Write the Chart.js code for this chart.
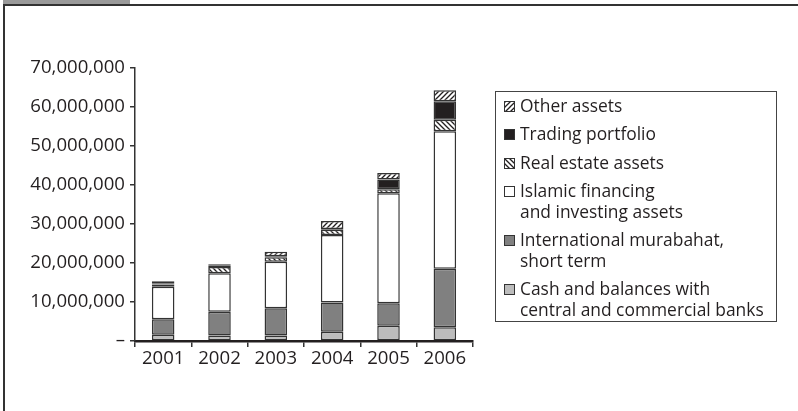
<!DOCTYPE html>
<html>
<head>
<meta charset="utf-8">
<script src="https://cdn.jsdelivr.net/npm/chart.js@4"></script>
<style>
  html, body { margin: 0; padding: 0; background: #fff; }
  #wrap { position: relative; width: 798px; height: 411px; overflow: hidden; font-family: "Open Sans", sans-serif; color: #231f20; }
  #tab { position: absolute; left: 3px; top: 0; width: 127px; height: 4px; background: #9a9a9a; }
  #topline { position: absolute; left: 3px; top: 4px; width: 795px; height: 2px; background: #333; }
  #leftline { position: absolute; left: 3px; top: 4px; width: 2px; height: 407px; background: #333; }
  #chartBox { position: absolute; left: 0; top: 0; width: 798px; height: 411px; }
  #legend { position: absolute; left: 495px; top: 91px; width: 282px; height: 231px; border: 1.5px solid #444; box-sizing: border-box; padding: 3px 0 0 8px; }
  .item { display: flex; align-items: flex-start; margin-bottom: 7.3px; font-size: 17.4px; line-height: 21px; }
  .sw { width: 9px; height: 9px; border: 1.2px solid #333; margin-top: 6px; margin-right: 5px; flex: none; background-size: 5px 5px; }
</style>
</head>
<body>
<div id="wrap">
  <div id="chartBox"><canvas id="chart" width="798" height="411"></canvas></div>
  <div id="tab"></div>
  <div id="topline"></div>
  <div id="leftline"></div>
  <div id="legend"></div>
</div>
<script>
// ---------- Data ----------
const years = ["2001", "2002", "2003", "2004", "2005", "2006"];
const cash = [1600000, 1400000, 1400000, 2400000, 3900000, 3500000];
const murabahat = [4000000, 6100000, 7000000, 7500000, 5800000, 15000000];
const islamic = [8300000, 9900000, 11900000, 17300000, 28200000, 35300000];
const realEstate = [600000, 1600000, 1200000, 1300000, 1000000, 2900000];
const trading = [300000, 300000, 200000, 200000, 2500000, 4800000];
const other = [500000, 400000, 1200000, 2100000, 1700000, 2800000];
const yTicks = [0, 10000000, 20000000, 30000000, 40000000, 50000000, 60000000, 70000000];

// ---------- Patterns ----------
function hatch(forward) {
  const c = document.createElement("canvas");
  c.width = 5; c.height = 5;
  const g = c.getContext("2d");
  g.fillStyle = "#fff"; g.fillRect(0, 0, 5, 5);
  g.strokeStyle = "#231f20"; g.lineWidth = 1.3;
  g.beginPath();
  if (forward) {
    g.moveTo(-1, 6); g.lineTo(6, -1);
    g.moveTo(-1, 1); g.lineTo(1, -1);
    g.moveTo(4, 6); g.lineTo(6, 4);
  } else {
    g.moveTo(-1, -1); g.lineTo(6, 6);
    g.moveTo(4, -1); g.lineTo(6, 1);
    g.moveTo(-1, 4); g.lineTo(1, 6);
  }
  g.stroke();
  return c;
}
const fwdCanvas = hatch(true), backCanvas = hatch(false);
const ctx = document.getElementById("chart").getContext("2d");
const fwdPat = ctx.createPattern(fwdCanvas, "repeat");
const backPat = ctx.createPattern(backCanvas, "repeat");

// bottom to top
const series = [
  { label: ["Cash and balances with", "central and commercial banks"], data: cash, bg: "#bcbcbc", css: "#bcbcbc" },
  { label: ["International murabahat,", "short term"], data: murabahat, bg: "#808080", css: "#808080" },
  { label: ["Islamic financing", "and investing assets"], data: islamic, bg: "#ffffff", css: "#ffffff" },
  { label: ["Real estate assets"], data: realEstate, bg: backPat, css: `url(${backCanvas.toDataURL()})` },
  { label: ["Trading portfolio"], data: trading, bg: "#231f20", css: "#231f20" },
  { label: ["Other assets"], data: other, bg: fwdPat, css: `url(${fwdCanvas.toDataURL()})` }
];

// ---------- Legend ----------
const legend = document.getElementById("legend");
series.slice().reverse().forEach((s) => {
  const it = document.createElement("div");
  it.className = "item";
  const sw = document.createElement("span");
  sw.className = "sw";
  if (s.css.startsWith("url")) sw.style.backgroundImage = s.css; else sw.style.background = s.css;
  const tx = document.createElement("span");
  tx.innerHTML = s.label.join("<br>");
  it.appendChild(sw); it.appendChild(tx);
  legend.appendChild(it);
});

// ---------- Chart ----------
const axisFont = { family: "'Open Sans', sans-serif", size: 18.6 };
new Chart(ctx, {
  type: "bar",
  data: {
    labels: years,
    datasets: series.map((s) => ({
      label: s.label.join(" "),
      data: s.data,
      backgroundColor: s.bg,
      borderColor: "#333",
      borderWidth: 1.5,
      borderSkipped: false,
      categoryPercentage: 1,
      barPercentage: 0.4
    }))
  },
  options: {
    responsive: false,
    animation: false,
    layout: { padding: { top: 68, right: 325, bottom: 40, left: 0 } },
    plugins: { legend: { display: false }, tooltip: { enabled: false } },
    scales: {
      x: {
        stacked: true,
        grid: { drawOnChartArea: false, drawTicks: true, tickLength: 6, color: "#333", lineWidth: 1.5 },
        border: { color: "#231f20", width: 2.5 },
        ticks: { color: "#231f20", font: axisFont, padding: 1 },
        afterFit: (s) => { s.height = 30; }
      },
      y: {
        stacked: true,
        min: 0, max: 70000000,
        afterBuildTicks: (s) => { s.ticks = yTicks.map((v) => ({ value: v })); },
        grid: { drawOnChartArea: false, drawTicks: true, tickLength: 5, color: "#333", lineWidth: 1.5 },
        border: { color: "#333", width: 1.5 },
        ticks: {
          color: "#231f20", font: axisFont, padding: 5,
          callback: (v) => v === 0 ? "–" : Number(v).toLocaleString("en-US")
        },
        afterFit: (s) => { s.width = 135; }
      }
    }
  }
});
</script>
</body>
</html>
